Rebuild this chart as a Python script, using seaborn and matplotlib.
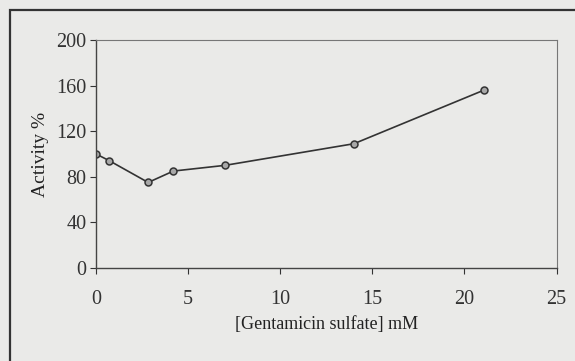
import matplotlib
matplotlib.use("Agg")
import matplotlib.pyplot as plt
import seaborn as sns
import pandas as pd
from matplotlib.patches import Rectangle

concentration = [0, 0.73, 2.83, 4.2, 7.0, 14.0, 21.05]
activity = [100, 94, 75, 85, 90, 109, 156]
x_ticks = [0, 5, 10, 15, 20, 25]
y_ticks = [0, 40, 80, 120, 160, 200]

sns.set_style("ticks")
plt.rcParams['font.family'] = ['Liberation Serif', 'DejaVu Serif']

bg = "#eaeae8"
fig = plt.figure(figsize=(5.75, 3.61), dpi=100, facecolor=bg)
ax = fig.add_axes([0.167, 0.258, 0.801, 0.631])
ax.set_facecolor(bg)

df = pd.DataFrame({"c": concentration, "a": activity})
sns.lineplot(data=df, x="c", y="a", ax=ax, color="#333333", linewidth=1.2,
             marker="o", markersize=5, markerfacecolor="#a8a8a8",
             markeredgecolor="#333333", markeredgewidth=1.1)

ax.set_xlim(0, 25)
ax.set_ylim(0, 200)
ax.set_xticks(x_ticks)
ax.set_yticks(y_ticks)
ax.tick_params(axis="x", direction="out", length=4, width=0.8, pad=12,
               labelsize=14.5, colors="#333333")
ax.tick_params(axis="y", direction="out", length=4, width=0.8, pad=3,
               labelsize=14.5, colors="#333333")
for side in ["left", "bottom"]:
    ax.spines[side].set_color("#444444")
    ax.spines[side].set_linewidth(1.0)
for side in ["top", "right"]:
    ax.spines[side].set_visible(True)
    ax.spines[side].set_color("#777777")
    ax.spines[side].set_linewidth(0.8)

ax.set_xlabel("[Gentamicin sulfate] mM", fontsize=13, color="#222222", labelpad=5)
ax.set_ylabel("Activity %", fontsize=14, color="#222222", labelpad=5)

fig.patches.append(Rectangle((10/575, -0.1), 1.2, 1 - 10/361 + 0.1,
                             transform=fig.transFigure, fill=False,
                             edgecolor="#333333", linewidth=1.6))

fig.savefig("out.png", dpi=100, facecolor=bg)
